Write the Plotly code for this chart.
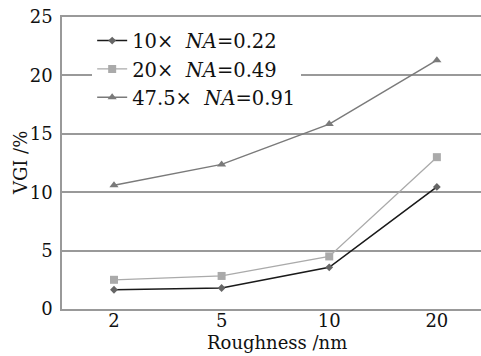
import plotly.graph_objects as go

categories = ["2", "5", "10", "20"]
s1_name = "10×  <i>NA</i>=0.22"
s2_name = "20×  <i>NA</i>=0.49"
s3_name = "47.5×  <i>NA</i>=0.91"
s1 = [1.65, 1.8, 3.57, 10.45]
s2 = [2.5, 2.83, 4.5, 13.0]
s3 = [10.6, 12.38, 15.83, 21.3]
yticks = [0, 5, 10, 15, 20, 25]
x_title = "Roughness /nm"
y_title = "VGI /%"

FONT = "DejaVu Serif"
TXT = "#111111"
fig = go.Figure()
fig.add_trace(go.Scatter(x=categories, y=s1, name=s1_name, mode="lines+markers",
                         line=dict(color="#1a1a1a", width=1.6),
                         marker=dict(symbol="diamond", size=6, color="#666666")))
fig.add_trace(go.Scatter(x=categories, y=s2, name=s2_name, mode="lines+markers",
                         line=dict(color="#aaaaaa", width=1.3),
                         marker=dict(symbol="square", size=8, color="#aaaaaa")))
fig.add_trace(go.Scatter(x=categories, y=s3, name=s3_name, mode="lines+markers",
                         line=dict(color="#7a7a7a", width=1.5),
                         marker=dict(symbol="triangle-up", size=8, color="#7a7a7a")))

fig.update_layout(
    width=481, height=356,
    margin=dict(l=62, r=0, t=17, b=47, autoexpand=False),
    plot_bgcolor="white", paper_bgcolor="white",
    font=dict(family=FONT, size=17, color=TXT),
    showlegend=True,
    legend=dict(x=0.072, y=0.985, xanchor="left", yanchor="top",
                bgcolor="white", font=dict(family=FONT, size=19.5, color=TXT),
                tracegroupgap=0, itemsizing="trace"),
    xaxis=dict(type="category", range=[-0.483, 3.41], showgrid=False,
               showline=True, mirror=True, linecolor="#999999", linewidth=1.5,
               ticks="", automargin=False, ticklabelstandoff=-5,
               tickfont=dict(size=18)),
    yaxis=dict(range=[0, 25], tickvals=yticks, showgrid=True,
               gridcolor="#999999", gridwidth=1.5,
               showline=True, linecolor="#999999", linewidth=1.5,
               zeroline=False, ticks="", ticklabelstandoff=4,
               automargin=False, tickfont=dict(size=18)),
    annotations=[
        dict(text=x_title, xref="paper", yref="paper", x=0.513, y=-0.116,
             xanchor="center", yanchor="middle", showarrow=False,
             font=dict(family=FONT, size=18, color=TXT)),
        dict(text=y_title, xref="paper", yref="paper", x=-0.1, y=0.5,
             xanchor="center", yanchor="middle", showarrow=False, textangle=-90,
             font=dict(family=FONT, size=18, color=TXT)),
    ],
)
fig.write_html("out.html", config={"displayModeBar": False},
               post_script="document.body.style.margin='0';document.body.style.padding='0';")
